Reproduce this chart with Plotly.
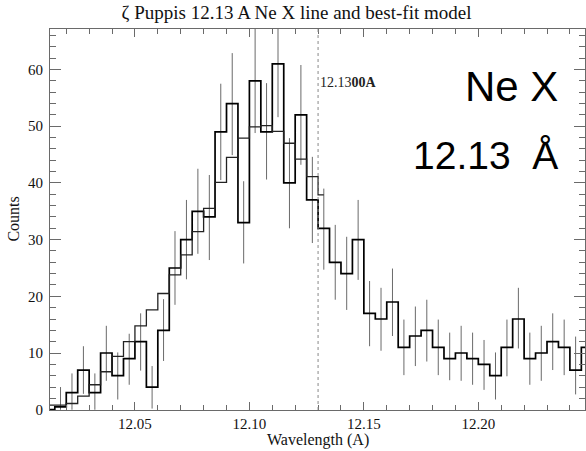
import plotly.graph_objects as go

# ---- data ----
wavelength = [12.0125, 12.0175, 12.0225, 12.0275, 12.0325, 12.0375, 12.0425, 12.0475,
              12.0525, 12.0575, 12.0625, 12.0675, 12.0725, 12.0775, 12.0825, 12.0875,
              12.0925, 12.0975, 12.1025, 12.1075, 12.1125, 12.1175, 12.1225, 12.1275,
              12.1325, 12.1375, 12.1425, 12.1475, 12.1525, 12.1575, 12.1625, 12.1675,
              12.1725, 12.1775, 12.1825, 12.1875, 12.1925, 12.1975, 12.2025, 12.2075,
              12.2125, 12.2175, 12.2225, 12.2275, 12.2325, 12.2375, 12.2425, 12.2475]

counts = [0, 0.5, 3, 7, 3, 10, 6, 9, 12, 4, 14, 25, 30, 35, 34, 49, 54, 33, 58, 49,
          61, 40, 52, 37, 32, 26, 24, 30, 17, 16, 19, 11, 13, 14, 11, 9, 10, 9, 8, 6,
          11, 16, 9, 10, 12, 11, 7, 11]

err_low = [0, 0, 0, 2.8, 0, 5.1, 1.8, 4.4, 6.9, 0.2, 8.6, 18.5, 23.0, 27.5, 26.4, 40.5,
           44.9, 25.8, 48.8, 40.6, 51.6, 32.0, 43.2, 29.4, 24.7, 19.4, 17.6, 22.9, 11.2,
           10.4, 13.0, 6.1, 7.7, 8.5, 6.1, 5.2, 5.1, 4.4, 3.5, 1.8, 5.9, 10.8, 4.4, 5.1,
           7.0, 6.1, 2.7, 11]
err_high = [0, 4.0, 6.4, 11.2, 6.4, 14.8, 10.1, 13.4, 17.0, 7.7, 19.5, 31.5, 37.0, 42.5,
            41.4, 57.5, 62.9, 40.3, 67.5, 57.6, 70.4, 47.9, 60.8, 44.6, 39.0, 32.6, 30.5,
            37.0, 22.7, 21.5, 24.9, 15.9, 18.2, 19.4, 15.9, 13.6, 14.8, 13.6, 12.3, 10.1,
            15.9, 21.5, 13.6, 14.8, 17.0, 15.9, 12.9, 11]

model_wavelength = wavelength[:25]
model_counts = [0.8, 0.8, 1.1, 2.4, 4.4, 6.7, 9.4, 12.0, 14.8, 17.6, 20.5, 23.8, 27.3,
                31.4, 35.5, 40.1, 44.5, 47.9, 49.9, 50.1, 49.1, 47.0, 44.2, 41.1, 37.9]

line_center = 12.13
x_range = [12.0129, 12.2466]
y_range = [-0.05, 67.15]
x_ticks = [12.05, 12.10, 12.15, 12.20]
y_ticks = [0, 10, 20, 30, 40, 50, 60]

serif = "Liberation Serif, Times New Roman, serif"
sans = "Liberation Sans, Arial, sans-serif"

fig = go.Figure()

fig.add_trace(go.Scatter(
    x=wavelength, y=counts, mode="lines", line_shape="hvh",
    line=dict(color="black", width=1.7),
    error_y=dict(type="data", symmetric=False,
                 array=[h - c for h, c in zip(err_high, counts)],
                 arrayminus=[c - l for c, l in zip(counts, err_low)],
                 width=0, thickness=1, color="#6a6a6a"),
    showlegend=False, hoverinfo="skip"))

fig.add_trace(go.Scatter(
    x=model_wavelength, y=model_counts, mode="lines", line_shape="hvh",
    line=dict(color="#222222", width=1.3),
    showlegend=False, hoverinfo="skip"))

fig.add_shape(type="line", xref="x", yref="paper", x0=line_center, x1=line_center,
              y0=0, y1=1, line=dict(color="#888888", width=1, dash="dot"))

fig.add_annotation(x=line_center, y=0.859, xref="x", yref="paper", xanchor="left",
                   yanchor="middle", xshift=0, showarrow=False,
                   text="12.13<b>00A</b>", font=dict(family=serif, size=14, color="#222"))

fig.add_annotation(x=0.9477, y=0.849, xref="paper", yref="paper", xanchor="right",
                   yanchor="middle", xshift=3, showarrow=False, text="Ne X",
                   font=dict(family=sans, size=42, color="black"))
fig.add_annotation(x=0.9477, y=0.668, xref="paper", yref="paper", xanchor="right",
                   yanchor="middle", xshift=3, showarrow=False, text="12.13\u00a0\u00a0Å",
                   font=dict(family=sans, size=39, color="black"))

fig.add_annotation(x=0.5, y=-0.0787, xref="paper", yref="paper", xanchor="center",
                   yanchor="middle", showarrow=False, text="Wavelength (A)",
                   font=dict(family=serif, size=16, color="#111"))
fig.add_annotation(x=-0.069, y=0.5, xref="paper", yref="paper", xanchor="center",
                   yanchor="middle", showarrow=False, text="Counts", textangle=-90,
                   font=dict(family=serif, size=16, color="#111"))

axis_common = dict(showline=True, linecolor="#6a6a6a", linewidth=1.2, mirror="allticks",
                   ticks="inside", tickcolor="#6a6a6a", tickwidth=1, showgrid=False,
                   zeroline=False, tickfont=dict(family=serif, size=15, color="#111"))

fig.update_xaxes(range=x_range, tickvals=x_ticks, ticktext=[f"{t:.2f}" for t in x_ticks],
                 ticklen=8, minor=dict(dtick=0.01, tick0=12.0, ticks="inside", ticklen=5,
                                       tickcolor="#6a6a6a", showgrid=False),
                 **axis_common)
fig.update_yaxes(range=y_range, tickvals=y_ticks, ticklen=11, ticklabelstandoff=3,
                 minor=dict(dtick=2, tick0=0, ticks="inside", ticklen=6,
                            tickcolor="#6a6a6a", showgrid=False),
                 **axis_common)

fig.update_layout(
    width=586, height=451,
    margin=dict(l=50, r=1, t=29, b=41),
    paper_bgcolor="white", plot_bgcolor="white",
    title=dict(text="ζ Puppis 12.13 A Ne X line and best-fit model",
               x=0.506, xref="container", xanchor="center",
               y=1 - 12 / 451, yref="container", yanchor="middle",
               font=dict(family=serif, size=19, color="#111")),
)

fig.write_html("out.html", config={"displayModeBar": False},
               post_script="document.body.style.margin='0';document.body.style.overflow='hidden';")
